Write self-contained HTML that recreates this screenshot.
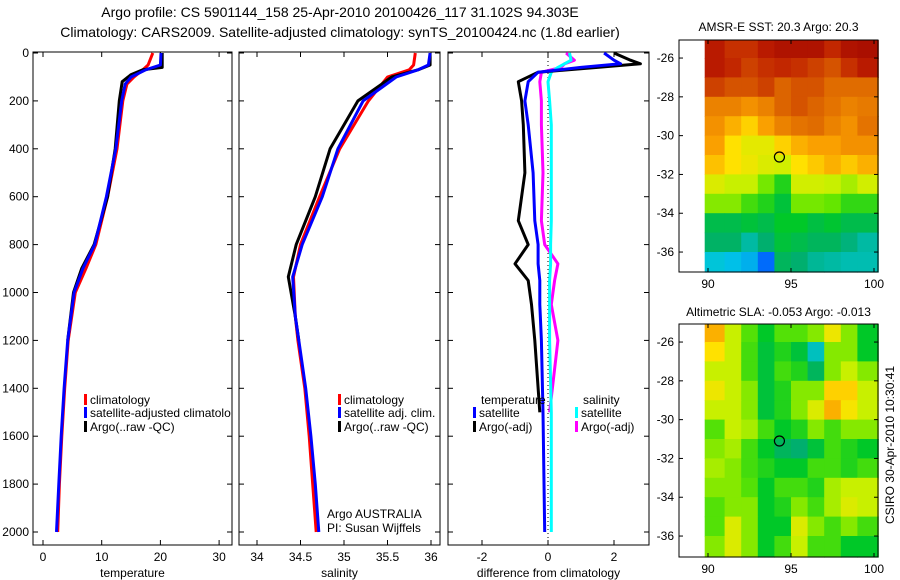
<!DOCTYPE html>
<html><head><meta charset="utf-8"><style>
html,body{margin:0;padding:0;background:#fff;}
svg{display:block;font-family:"Liberation Sans",Arial,sans-serif;}
text{fill:#000;}
</style></head><body>
<svg id="fig" width="900" height="580" viewBox="0 0 900 580">
<text x="340" y="17" font-size="14" text-anchor="middle">Argo profile: CS 5901144_158 25-Apr-2010 20100426_117 31.102S 94.303E</text>
<text x="340" y="37" font-size="14" text-anchor="middle">Climatology: CARS2009. Satellite-adjusted climatology: synTS_20100424.nc (1.8d earlier)</text>
<g id="p1"></g>
<g id="p2"></g>
<g id="p3"></g>
<g id="m1"></g>
<g id="m2"></g>
<text transform="translate(894,445) rotate(-90)" font-size="12" text-anchor="middle">CSIRO 30-Apr-2010 10:30:41</text>
</svg>
<script>
// ---- profile data ----
const tDepth = [0,50,70,100,130,200,400,600,800,900,1000,1200,1400,1600,1800,2000];
const tClim  = [18.7,17.9,17.0,15.5,14.3,13.6,12.6,11.0,9.0,7.3,5.5,4.3,3.7,3.2,2.8,2.5];
const tSat   = [20.1,20.0,17.5,15.0,14.0,13.4,12.4,10.8,8.8,6.8,5.3,4.2,3.6,3.1,2.7,2.3];
const aDepth = [0,60,70,90,120,200,400,600,800,900,1000,1200];
const tArgo  = [20.3,20.3,17.0,15.0,13.5,13.0,12.3,11.0,8.7,6.6,5.2,4.2];
const sDepth = [0,50,70,100,200,400,600,800,935,1100,1200,1400,1600,1800,2000];
const sClim  = [35.82,35.8,35.75,35.5,35.28,34.95,34.72,34.5,34.42,34.44,34.47,34.55,34.6,34.64,34.68];
const sSat   = [35.99,35.97,35.85,35.6,35.22,34.93,34.75,34.52,34.41,34.44,34.48,34.56,34.62,34.67,34.71];
const sArgo  = [35.99,35.99,35.85,35.55,35.16,34.84,34.67,34.45,34.36,34.44,34.48,null,null,null,null];
const dDepth = [0,30,45,60,80,120,200,300,500,700,800,880,950,1050,1200,1500,2000];
const dTSat  = [1.7,2.0,2.2,1.0,-0.3,-0.6,-0.7,-0.6,-0.45,-0.4,-0.3,-0.3,-0.25,-0.25,-0.2,-0.15,-0.1];
const dTArgo = [2.0,2.5,2.8,1.5,-0.3,-0.9,-0.8,-0.75,-0.7,-0.9,-0.6,-1.0,-0.6,-0.5,-0.4,-0.25,null];
const dSSat  = [0.65,0.7,0.5,0.3,0.1,0.0,0.05,0.1,0.1,0.1,0.08,0.08,0.05,0.05,0.05,0.1,0.1];
const dSArgo = [0.55,0.8,0.5,0.4,-0.2,-0.25,-0.2,-0.2,-0.15,-0.2,-0.1,0.3,0.2,0.1,0.3,0.05,null];
const depthTicks = [0,200,400,600,800,1000,1200,1400,1600,1800,2000];
const tTicks = [0,10,20,30];
const sTicks = [34,34.5,35,35.5,36];
const dTicks = [-2,0,2];
// ---- map data (colormap index 0..1), rows from north (-25.5) to south (-36.5), cols 90..100 ----
const sstGrid = [
[0.93,0.90,0.90,0.93,0.95,0.95,0.95,0.91,0.95,0.96],
[0.93,0.91,0.88,0.90,0.91,0.90,0.88,0.86,0.90,0.93],
[0.88,0.86,0.86,0.88,0.84,0.86,0.86,0.83,0.83,0.83],
[0.80,0.80,0.78,0.80,0.84,0.86,0.84,0.82,0.80,0.81],
[0.78,0.74,0.70,0.76,0.80,0.82,0.83,0.80,0.78,0.82],
[0.76,0.68,0.65,0.65,0.70,0.74,0.76,0.76,0.78,0.78],
[0.72,0.68,0.66,0.64,0.63,0.68,0.71,0.74,0.71,0.74],
[0.64,0.62,0.62,0.57,0.52,0.63,0.63,0.62,0.60,0.63],
[0.58,0.58,0.54,0.52,0.48,0.57,0.57,0.56,0.53,0.53],
[0.46,0.46,0.48,0.46,0.50,0.50,0.47,0.49,0.46,0.46],
[0.43,0.43,0.38,0.42,0.48,0.46,0.44,0.44,0.41,0.38],
[0.34,0.32,0.30,0.22,0.44,0.42,0.39,0.38,0.37,0.37]];
const slaGrid = [
[0.74,0.62,0.55,0.50,0.55,0.55,0.58,0.66,0.58,0.50],
[0.68,0.62,0.54,0.48,0.52,0.48,0.36,0.58,0.58,0.50],
[0.62,0.62,0.54,0.48,0.54,0.52,0.44,0.58,0.62,0.58],
[0.66,0.62,0.58,0.48,0.52,0.58,0.58,0.70,0.70,0.62],
[0.62,0.62,0.58,0.48,0.52,0.58,0.64,0.74,0.67,0.62],
[0.55,0.62,0.60,0.54,0.50,0.52,0.58,0.54,0.58,0.58],
[0.58,0.60,0.54,0.50,0.44,0.42,0.48,0.54,0.52,0.50],
[0.60,0.58,0.54,0.52,0.50,0.50,0.54,0.54,0.52,0.54],
[0.58,0.58,0.55,0.50,0.54,0.54,0.52,0.60,0.62,0.62],
[0.55,0.58,0.58,0.50,0.52,0.58,0.54,0.60,0.64,0.62],
[0.55,0.64,0.58,0.50,0.50,0.64,0.58,0.54,0.58,0.54],
[0.58,0.64,0.58,0.50,0.54,0.62,0.54,0.54,0.50,0.50]];
const lonTicks = [90,95,100];
const latTicks = [-26,-28,-30,-32,-34,-36];
const floatLon = 94.303, floatLat = -31.102;

const NS = "http://www.w3.org/2000/svg";
function mk(parent, tag, attrs, txt){
  const e = document.createElementNS(NS, tag);
  for (const k in attrs) e.setAttribute(k, attrs[k]);
  if (txt !== undefined) e.textContent = txt;
  parent.appendChild(e);
  return e;
}
const yD = d => 53 + 0.2395 * d;

function panel(g, x0, x1, xs, ticks, tickFmt, xlabel, leftLabels){
  const top = 52, bot = 545;
  const frame = mk(g, 'rect', {x:x0, y:top, width:x1-x0, height:bot-top, fill:'none', stroke:'#000', 'stroke-width':1});
  
  
  ticks.forEach(t => {
    const x = xs(t);
    mk(g, 'line', {x1:x, y1:bot, x2:x, y2:bot-5, stroke:'#000'});
    mk(g, 'line', {x1:x, y1:top, x2:x, y2:top+5, stroke:'#000'});
    const lb = mk(g, 'text', {x:x, y:561, 'font-size':12, 'text-anchor':'middle'}, tickFmt(t));
    
    
  });
  depthTicks.forEach(d => {
    const y = yD(d);
    mk(g, 'line', {x1:x0, y1:y, x2:x0+5, y2:y, stroke:'#000'});
    mk(g, 'line', {x1:x1, y1:y, x2:x1-5, y2:y, stroke:'#000'});
    if (leftLabels){
      const lb = mk(g, 'text', {x:x0-4, y:y+4, 'font-size':12, 'text-anchor':'end'}, String(d));
      
      
    }
  });
  const xl = mk(g, 'text', {x:(x0+x1)/2, y:577, 'font-size':12, 'text-anchor':'middle'}, xlabel);
  
  
}
function line(g, depths, vals, xs, color, name, width){
  let pts = [];
  depths.forEach((d,i) => { if (vals[i] !== null) pts.push(xs(vals[i]).toFixed(1)+','+yD(d).toFixed(1)); });
  const p = mk(g, 'polyline', {points:pts.join(' '), fill:'none', stroke:color, 'stroke-width':width||3, 'stroke-linejoin':'round'});
  
  
}
function legend(g, x, y, color, label){
  const r = mk(g, 'rect', {x:x, y:y-10, width:3, height:11, fill:color});
  
  
  const t = mk(g, 'text', {x:x+6, y:y, 'font-size':12}, label);
  
  
}

// Panel 1 temperature
const g1 = document.getElementById('p1');
const xT = t => 43 + 5.87 * t;
panel(g1, 33, 232, xT, tTicks, String, 'temperature', true);
line(g1, tDepth, tClim, xT, '#ff0000', 'temp-climatology-line');
line(g1, aDepth, tArgo, xT, '#000000', 'temp-argo-line');
line(g1, tDepth, tSat, xT, '#0000ff', 'temp-satellite-line');
legend(g1, 84, 404, '#ff0000', 'climatology');
legend(g1, 84, 417, '#0000ff', 'satellite-adjusted climatolo');
legend(g1, 84, 431, '#000000', 'Argo(..raw -QC)');

// Panel 2 salinity
const g2 = document.getElementById('p2');
const xS = s => 257 + 87 * (s - 34);
panel(g2, 239, 440, xS, sTicks, String, 'salinity', false);
line(g2, sDepth, sClim, xS, '#ff0000', 'sal-climatology-line');
line(g2, sDepth, sArgo, xS, '#000000', 'sal-argo-line');
line(g2, sDepth, sSat, xS, '#0000ff', 'sal-satellite-line');
legend(g2, 338, 404, '#ff0000', 'climatology');
legend(g2, 338, 417, '#0000ff', 'satellite adj. clim.');
legend(g2, 338, 431, '#000000', 'Argo(..raw -QC)');
const a1 = mk(g2, 'text', {x:327, y:518, 'font-size':12}, 'Argo AUSTRALIA');


const a2 = mk(g2, 'text', {x:327, y:532, 'font-size':12}, 'PI: Susan Wijffels');



// Panel 3 differences
const g3 = document.getElementById('p3');
const xDf = v => 548 + 33 * v;
panel(g3, 448, 649, xDf, dTicks, String, 'difference from climatology', false);
mk(g3, 'line', {x1:xDf(0), y1:53, x2:xDf(0), y2:545, stroke:'#000', 'stroke-dasharray':'1,3'});
line(g3, dDepth, dSArgo, xDf, '#ff00ff', 'sal-argo-diff-line');
line(g3, dDepth, dSSat, xDf, '#00ffff', 'sal-satellite-diff-line');
line(g3, dDepth, dTArgo, xDf, '#000000', 'temp-argo-diff-line');
line(g3, dDepth, dTSat, xDf, '#0000ff', 'temp-satellite-diff-line');
const lt = mk(g3, 'text', {x:481, y:404, 'font-size':12}, 'temperature');


const ls = mk(g3, 'text', {x:583, y:404, 'font-size':12}, 'salinity');


legend(g3, 473, 417, '#0000ff', 'satellite');
legend(g3, 473, 431, '#000000', 'Argo(-adj)');
legend(g3, 575, 417, '#00ffff', 'satellite');
legend(g3, 575, 431, '#ff00ff', 'Argo(-adj)');

// colormap (stops approximating the reference palette)
const cmStops = [[0,[0,0,140]],[0.2,[0,90,255]],[0.33,[0,200,230]],[0.42,[0,175,110]],[0.5,[0,200,40]],[0.56,[100,230,0]],[0.62,[200,240,0]],[0.68,[255,225,0]],[0.76,[250,160,0]],[0.84,[220,100,0]],[0.92,[190,30,0]],[1,[150,0,0]]];
function cmap(v){
  for (let i = 1; i < cmStops.length; i++){
    if (v <= cmStops[i][0]){
      const [a, ca] = cmStops[i-1], [b, cb] = cmStops[i];
      const f = (v - a) / (b - a);
      return 'rgb(' + ca.map((c,k) => Math.round(c + f*(cb[k]-c))).join(',') + ')';
    }
  }
  return 'rgb(150,0,0)';
}
function mapPanel(g, grid, top, bot, latTop, latScale, title, titleY, name){
  const x0 = 679, x1 = 878;
  const xL = lon => 708 + 16.6 * (lon - 90);
  const yL = lat => top + (latTop - lat) * latScale;
  const tt = mk(g, 'text', {x:(x0+x1)/2, y:titleY, 'font-size':12, 'text-anchor':'middle'}, title);
  
  
  const nR = grid.length;
  grid.forEach((row, i) => {
    row.forEach((v, j) => {
      const lonA = j === 0 ? 89.8 : 90 + j;
      const lonB = j === row.length - 1 ? 100.25 : 91 + j;
      const latA = i === 0 ? latTop : -25 - i;
      const latB = i === nR - 1 ? -37.1 : -26 - i;
      const xa = xL(lonA), xb = xL(lonB), ya = yL(latA), yb = Math.min(bot, yL(latB));
      const r = mk(g, 'rect', {x:xa.toFixed(1), y:ya.toFixed(1), width:(xb-xa+0.6).toFixed(1), height:(yb-ya+0.6).toFixed(1), fill:cmap(v)});
      
      
    });
  });
  const fr = mk(g, 'rect', {x:x0, y:top, width:x1-x0, height:bot-top, fill:'none', stroke:'#000'});
  
  
  lonTicks.forEach(l => {
    const x = xL(l);
    mk(g, 'line', {x1:x, y1:bot, x2:x, y2:bot-4, stroke:'#000'});
    mk(g, 'line', {x1:x, y1:top, x2:x, y2:top+4, stroke:'#000'});
    const lb = mk(g, 'text', {x:x, y:bot+16, 'font-size':12, 'text-anchor':'middle'}, String(l));
    
    
  });
  latTicks.forEach(l => {
    const y = yL(l);
    mk(g, 'line', {x1:x0, y1:y, x2:x0+4, y2:y, stroke:'#000'});
    mk(g, 'line', {x1:x1, y1:y, x2:x1-4, y2:y, stroke:'#000'});
    const lb = mk(g, 'text', {x:x0-5, y:y+4, 'font-size':12, 'text-anchor':'end'}, String(l));
    
    
  });
  const c = mk(g, 'circle', {cx:xL(floatLon), cy:yL(floatLat), r:5, fill:'none', stroke:'#000', 'stroke-width':1.2});
  
  
}
mapPanel(document.getElementById('m1'), sstGrid, 40, 272, -25.07, 19.4, 'AMSR-E SST: 20.3 Argo: 20.3', 31, 'sst-map');
mapPanel(document.getElementById('m2'), slaGrid, 324, 557, -25.07, 19.4, 'Altimetric SLA: -0.053 Argo: -0.013', 316, 'sla-map');
</script>
</body></html>
